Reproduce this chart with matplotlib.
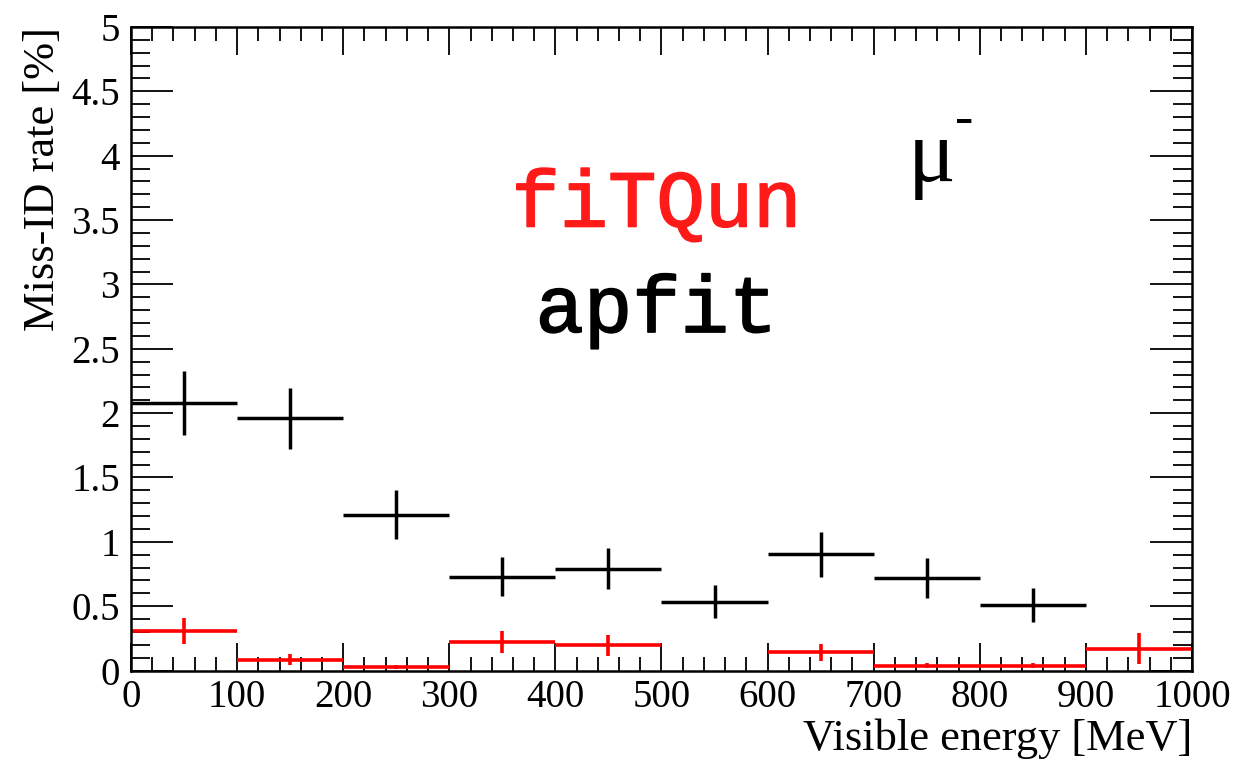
import numpy as np
import matplotlib.pyplot as plt
import matplotlib.patheffects as pe
from matplotlib.ticker import MultipleLocator

# bin centres [MeV] and miss-ID rates [%]
bin_centers = [50, 150, 250, 350, 450, 550, 650, 750, 850, 950]
bin_half_width = 50

apfit_rate = [2.08, 1.96, 1.21, 0.73, 0.79, 0.535, 0.905, 0.72, 0.51, np.nan]
apfit_err = [0.25, 0.235, 0.19, 0.15, 0.16, 0.13, 0.175, 0.155, 0.13, np.nan]

fitqun_rate = [0.31, 0.085, 0.03, 0.222, 0.196, np.nan, 0.142, 0.037, 0.037, 0.17]
fitqun_err = [0.10, 0.045, 0.015, 0.085, 0.08, np.nan, 0.067, 0.02, 0.02, 0.12]

serif = "Liberation Serif"

fig = plt.figure(figsize=(12.56, 7.62), dpi=100)
ax = fig.add_axes([0.1043, 0.120, 0.8447, 0.8446])

x = np.array(bin_centers, dtype=float)
ax.errorbar(x, apfit_rate, xerr=bin_half_width, yerr=apfit_err, fmt="none",
            ecolor="black", elinewidth=2.5, capsize=0)
ax.errorbar(x, fitqun_rate, xerr=bin_half_width, yerr=fitqun_err, fmt="none",
            ecolor="red", elinewidth=2.6, capsize=0)

ax.set_xlim(0, 1000)
ax.set_ylim(0, 5)

ax.xaxis.set_major_locator(MultipleLocator(100))
ax.xaxis.set_minor_locator(MultipleLocator(20))
ax.yaxis.set_minor_locator(MultipleLocator(0.1))
ax.set_yticks(np.arange(0, 5.01, 0.5))
ax.set_yticklabels(["0", "0.5", "1", "1.5", "2", "2.5", "3", "3.5", "4", "4.5", "5"])

ax.tick_params(axis="both", which="both", direction="in", top=True, right=True, width=1.3, colors="black")
ax.tick_params(axis="x", which="major", length=20, pad=6, labelsize=28)
ax.tick_params(axis="x", which="minor", length=10)
ax.tick_params(axis="y", which="major", length=30, pad=8, labelsize=28)
ax.tick_params(axis="y", which="minor", length=14)
for lab in ax.get_xticklabels() + ax.get_yticklabels():
    lab.set_family(serif)

for sp in ax.spines.values():
    sp.set_linewidth(1.8)

ax.set_xlabel("Visible energy [MeV]", fontsize=32, family=serif, loc="right", labelpad=2)
ax.set_ylabel("Miss-ID rate [%]", fontsize=32, family=serif, loc="top", labelpad=6)

thick_red = [pe.withStroke(linewidth=1.2, foreground="#ff1a1a")]
thick_blk = [pe.withStroke(linewidth=1.2, foreground="black")]
ax.text(495, 3.45, "fiTQun", color="#ff1a1a", fontsize=58, family="Liberation Mono",
        ha="center", va="baseline", path_effects=thick_red)
ax.text(495, 2.63, "apfit", color="black", fontsize=58, family="Liberation Mono",
        ha="center", va="baseline", path_effects=thick_blk)
ax.text(732, 3.80, "\u03bc", color="black", fontsize=64, family=serif,
        ha="left", va="baseline")
ax.text(777, 4.17, "-", color="black", fontsize=40, family=serif,
        ha="left", va="baseline")

fig.savefig("out.png", dpi=100)
